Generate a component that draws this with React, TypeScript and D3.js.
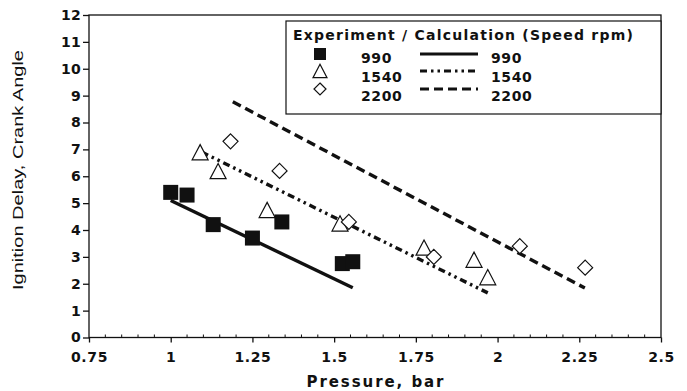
import React, { useEffect, useRef } from 'react';
import * as d3 from 'd3';

// Experiment points (pressure bar, ignition delay crank angle)
const exp990 = [
  { p: 1.0, d: 5.4 }, { p: 1.05, d: 5.3 }, { p: 1.13, d: 4.2 }, { p: 1.25, d: 3.7 },
  { p: 1.34, d: 4.3 }, { p: 1.525, d: 2.75 }, { p: 1.557, d: 2.82 },
];
const exp1540 = [
  { p: 1.09, d: 6.85 }, { p: 1.145, d: 6.15 }, { p: 1.295, d: 4.7 }, { p: 1.518, d: 4.2 },
  { p: 1.775, d: 3.3 }, { p: 1.928, d: 2.85 }, { p: 1.97, d: 2.2 },
];
const exp2200 = [
  { p: 1.183, d: 7.3 }, { p: 1.333, d: 6.2 }, { p: 1.545, d: 4.3 }, { p: 1.805, d: 3.0 },
  { p: 2.068, d: 3.4 }, { p: 2.268, d: 2.6 },
];
// Calculation lines
const calc990 = [{ p: 1.0, d: 5.1 }, { p: 1.557, d: 1.85 }];
const calc1540 = [{ p: 1.095, d: 6.9 }, { p: 1.97, d: 1.66 }];
const calc2200 = [{ p: 1.19, d: 8.77 }, { p: 2.267, d: 1.84 }];

const xTicks = [0.75, 1, 1.25, 1.5, 1.75, 2, 2.25, 2.5];
const yTicks = [0, 1, 2, 3, 4, 5, 6, 7, 8, 9, 10, 11, 12];
const speeds = ['990', '1540', '2200'];

const BOLD = 'DejaVu Sans, Arial, sans-serif';
const PLAIN = 'Liberation Sans, Arial, sans-serif';

export default function App() {
  const ref = useRef<SVGSVGElement>(null);

  useEffect(() => {
    if (!ref.current) return;
    const svg = d3.select(ref.current);
    svg.selectAll('*').remove();

    const left = 89, right = 661, top = 15, bottom = 337.5;
    const x = d3.scaleLinear().domain([0.75, 2.5]).range([left, right]);
    const y = d3.scaleLinear().domain([0, 12]).range([bottom, top]);

    svg.append('rect').attr('width', 687).attr('height', 391).attr('fill', '#fff');

    // frame
    svg.append('rect')
      .attr('x', left).attr('y', top)
      .attr('width', right - left).attr('height', bottom - top)
      .attr('fill', 'none').attr('stroke', '#111').attr('stroke-width', 1.3);

    // x axis
    const xAxis = svg.append('g').attr('transform', `translate(0,${bottom})`);
    xAxis.call(d3.axisBottom(x).tickValues(xTicks).tickSize(5).tickFormat(d => String(d)) as any);
    xAxis.select('.domain').remove();
    xAxis.selectAll('line').attr('stroke', '#111').attr('stroke-width', 1.3);
    xAxis.selectAll('text')
      .attr('font-family', BOLD).attr('font-weight', 'bold').attr('font-size', 14)
      .attr('letter-spacing', 0.6).attr('fill', '#111').attr('dy', '1.15em');
    const minor = d3.range(0.8, 2.5, 0.05).filter(v => !xTicks.some(t => Math.abs(t - v) < 1e-6));
    svg.append('g').selectAll('line').data(minor).enter().append('line')
      .attr('x1', d => x(d)).attr('x2', d => x(d))
      .attr('y1', bottom).attr('y2', bottom - 3)
      .attr('stroke', '#111').attr('stroke-width', 1);

    // y axis
    const yAxis = svg.append('g').attr('transform', `translate(${left},0)`);
    yAxis.call(d3.axisLeft(y).tickValues(yTicks).tickSize(6).tickFormat(d => String(d)) as any);
    yAxis.select('.domain').remove();
    yAxis.selectAll('line').attr('stroke', '#111').attr('stroke-width', 1.3);
    yAxis.selectAll('text')
      .attr('font-family', BOLD).attr('font-weight', 'bold').attr('font-size', 14)
      .attr('letter-spacing', 0.3).attr('fill', '#111').attr('x', -8);

    // axis titles
    svg.append('text')
      .attr('x', 375).attr('y', 387).attr('text-anchor', 'middle')
      .attr('font-family', BOLD).attr('font-weight', 'bold').attr('font-size', 15)
      .attr('fill', '#111')
      .attr('textLength', 137).attr('lengthAdjust', 'spacing')
      .text('Pressure, bar');
    svg.append('text')
      .attr('transform', 'translate(23,170) rotate(-90)')
      .attr('text-anchor', 'middle')
      .attr('font-family', PLAIN).attr('font-size', 15.5).attr('fill', '#111')
      .attr('textLength', 240).attr('lengthAdjust', 'spacingAndGlyphs')
      .text('Ignition Delay, Crank Angle');

    // calculation lines
    const line = d3.line<{ p: number; d: number }>().x(d => x(d.p)).y(d => y(d.d));
    const styles = [
      { data: calc990, dash: null },
      { data: calc1540, dash: '7,4,2.5,4,2.5,4' },
      { data: calc2200, dash: '9,5' },
    ];
    styles.forEach(s => {
      svg.append('path').datum(s.data)
        .attr('d', line).attr('fill', 'none').attr('stroke', '#111')
        .attr('stroke-width', 3.4)
        .attr('stroke-dasharray', s.dash as any);
    });

    // markers
    const drawSquare = (g: any, cx: number, cy: number, s: number) =>
      g.append('rect').attr('x', cx - s / 2).attr('y', cy - s / 2)
        .attr('width', s).attr('height', s).attr('fill', '#111');
    const drawTri = (g: any, cx: number, cy: number, s: number) =>
      g.append('path')
        .attr('d', `M${cx},${cy - s * 0.55}L${cx + s / 2},${cy + s * 0.4}L${cx - s / 2},${cy + s * 0.4}Z`)
        .attr('fill', '#fff').attr('stroke', '#111').attr('stroke-width', 1.2);
    const drawDia = (g: any, cx: number, cy: number, s: number) =>
      g.append('path')
        .attr('d', `M${cx},${cy - s / 2}L${cx + s / 2},${cy}L${cx},${cy + s / 2}L${cx - s / 2},${cy}Z`)
        .attr('fill', '#fff').attr('stroke', '#111').attr('stroke-width', 1.2);

    const pts = svg.append('g');
    exp990.forEach(d => drawSquare(pts, x(d.p), y(d.d), 15));
    exp1540.forEach(d => drawTri(pts, x(d.p), y(d.d), 16));
    exp2200.forEach(d => drawDia(pts, x(d.p), y(d.d), 15));

    // legend
    const lg = svg.append('g');
    lg.append('rect').attr('x', 286).attr('y', 21).attr('width', right - 286).attr('height', 93)
      .attr('fill', '#fff').attr('stroke', '#111').attr('stroke-width', 1.2);
    lg.append('text').attr('x', 293).attr('y', 40)
      .attr('font-family', BOLD).attr('font-weight', 'bold').attr('font-size', 14)
      .attr('fill', '#111')
      .attr('textLength', 340).attr('lengthAdjust', 'spacing')
      .text('Experiment  /  Calculation (Speed rpm)');
    const textY = [63, 82, 101];
    const markY = [54, 71, 89];
    const dashes = [null, '7,4,2.5,4,2.5,4', '9,5'];
    speeds.forEach((sp, i) => {
      const my = markY[i];
      if (i === 0) drawSquare(lg, 320, my, 12);
      if (i === 1) drawTri(lg, 320, my + 1, 14);
      if (i === 2) drawDia(lg, 320, my, 12);
      lg.append('text').attr('x', 361).attr('y', textY[i])
        .attr('font-family', BOLD).attr('font-weight', 'bold').attr('font-size', 14)
        .attr('letter-spacing', 0.6).attr('fill', '#111').text(sp);
      lg.append('line').attr('x1', 420).attr('x2', 478).attr('y1', my).attr('y2', my)
        .attr('stroke', '#111').attr('stroke-width', 3)
        .attr('stroke-dasharray', dashes[i] as any);
      lg.append('text').attr('x', 491).attr('y', textY[i])
        .attr('font-family', BOLD).attr('font-weight', 'bold').attr('font-size', 14)
        .attr('letter-spacing', 0.6).attr('fill', '#111').text(sp);
    });
  }, []);

  return (
    <svg ref={ref} width={687} height={391}
      style={{ position: 'absolute', left: 0, top: 0, display: 'block' }} />
  );
}
